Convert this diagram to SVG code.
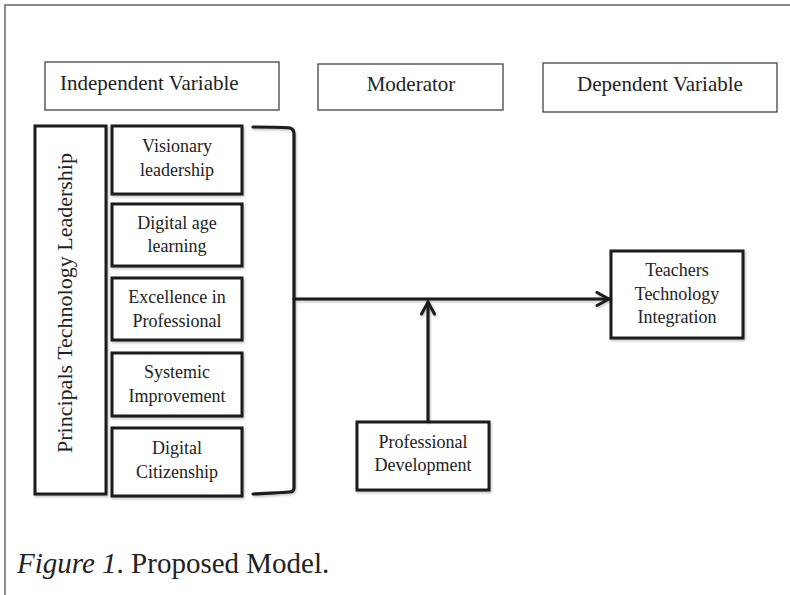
<svg xmlns="http://www.w3.org/2000/svg" width="790" height="595" viewBox="0 0 790 595">
<defs>
<style>
.t{font-family:"Liberation Serif","Times New Roman",serif;fill:#222}
.hdr{fill:#fff;stroke:#444;stroke-width:1.3}
.box{fill:#fff;stroke:#1c1c1c;stroke-width:3;filter:url(#sh)}
.ln{fill:none;stroke:#1c1c1c;stroke-width:3.2;stroke-linecap:round;stroke-linejoin:round}
</style>
<filter id="sh" x="-10%" y="-10%" width="130%" height="130%">
<feDropShadow dx="1" dy="1.5" stdDeviation="1" flood-color="#000" flood-opacity="0.25"/>
</filter>
<marker id="arr" viewBox="0 0 16 16" refX="14" refY="8" markerWidth="16" markerHeight="16" markerUnits="userSpaceOnUse" orient="auto">
<path d="M2,1.5 L14,8 L2,14.5" fill="none" stroke="#1c1c1c" stroke-width="3" stroke-linecap="round" stroke-linejoin="miter"/>
</marker>
</defs>
<rect width="790" height="595" fill="#fff"/>
<rect x="5" y="5" width="800" height="610" fill="none" stroke="#666" stroke-width="1.5"/>

<g id="independent-variable">
<rect class="hdr" x="45" y="62" width="234" height="48"/>
<text class="t" x="60" y="90" font-size="21">Independent Variable</text>
</g>
<g id="moderator">
<rect class="hdr" x="318" y="64" width="185" height="46"/>
<text class="t" x="411" y="91" font-size="21" text-anchor="middle">Moderator</text>
</g>
<g id="dependent-variable">
<rect class="hdr" x="543" y="63" width="234" height="49"/>
<text class="t" x="660" y="91" font-size="21" text-anchor="middle">Dependent Variable</text>
</g>

<g id="principals-technology-leadership">
<rect class="box" x="35" y="126" width="71" height="368"/>
<text class="t" transform="translate(72,303) rotate(-90)" font-size="22" text-anchor="middle">Principals Technology Leadership</text>
</g>
<g id="visionary-leadership">
<rect class="box" x="112" y="126" width="130" height="68"/>
<text class="t" font-size="18" text-anchor="middle"><tspan x="177" y="152">Visionary</tspan><tspan x="177" y="176">leadership</tspan></text>
</g>
<g id="digital-age-learning">
<rect class="box" x="112" y="204" width="130" height="62"/>
<text class="t" font-size="18" text-anchor="middle"><tspan x="177" y="229">Digital age</tspan><tspan x="177" y="252">learning</tspan></text>
</g>
<g id="excellence-in-professional">
<rect class="box" x="112" y="278" width="130" height="62"/>
<text class="t" font-size="18" text-anchor="middle"><tspan x="177" y="303">Excellence in</tspan><tspan x="177" y="327">Professional</tspan></text>
</g>
<g id="systemic-improvement">
<rect class="box" x="112" y="353" width="130" height="63"/>
<text class="t" font-size="18" text-anchor="middle"><tspan x="177" y="378">Systemic</tspan><tspan x="177" y="402">Improvement</tspan></text>
</g>
<g id="digital-citizenship">
<rect class="box" x="112" y="428" width="130" height="68"/>
<text class="t" font-size="18" text-anchor="middle"><tspan x="177" y="454">Digital</tspan><tspan x="177" y="478">Citizenship</tspan></text>
</g>

<g id="teachers-technology-integration">
<rect class="box" x="611" y="251" width="132" height="87"/>
<text class="t" font-size="18" text-anchor="middle"><tspan x="677" y="276">Teachers</tspan><tspan x="677" y="300">Technology</tspan><tspan x="677" y="323">Integration</tspan></text>
</g>
<g id="professional-development">
<rect class="box" x="357" y="422" width="132" height="68"/>
<text class="t" font-size="18" text-anchor="middle"><tspan x="423" y="448">Professional</tspan><tspan x="423" y="471">Development</tspan></text>
</g>

<g id="connectors" filter="url(#sh)">
<path class="ln" d="M253,127 C270,127 285,127 290,128 Q294,129 294,134 L294,488 Q294,492 289,492 C280,493 266,493 253,494"/>
<path class="ln" d="M294,299 L609,299" marker-end="url(#arr)"/>
<path class="ln" d="M428,421 L428,302" marker-end="url(#arr)"/>
</g>

<text class="t" x="17" y="573" font-size="29"><tspan font-style="italic">Figure 1</tspan>. Proposed Model.</text>
</svg>
